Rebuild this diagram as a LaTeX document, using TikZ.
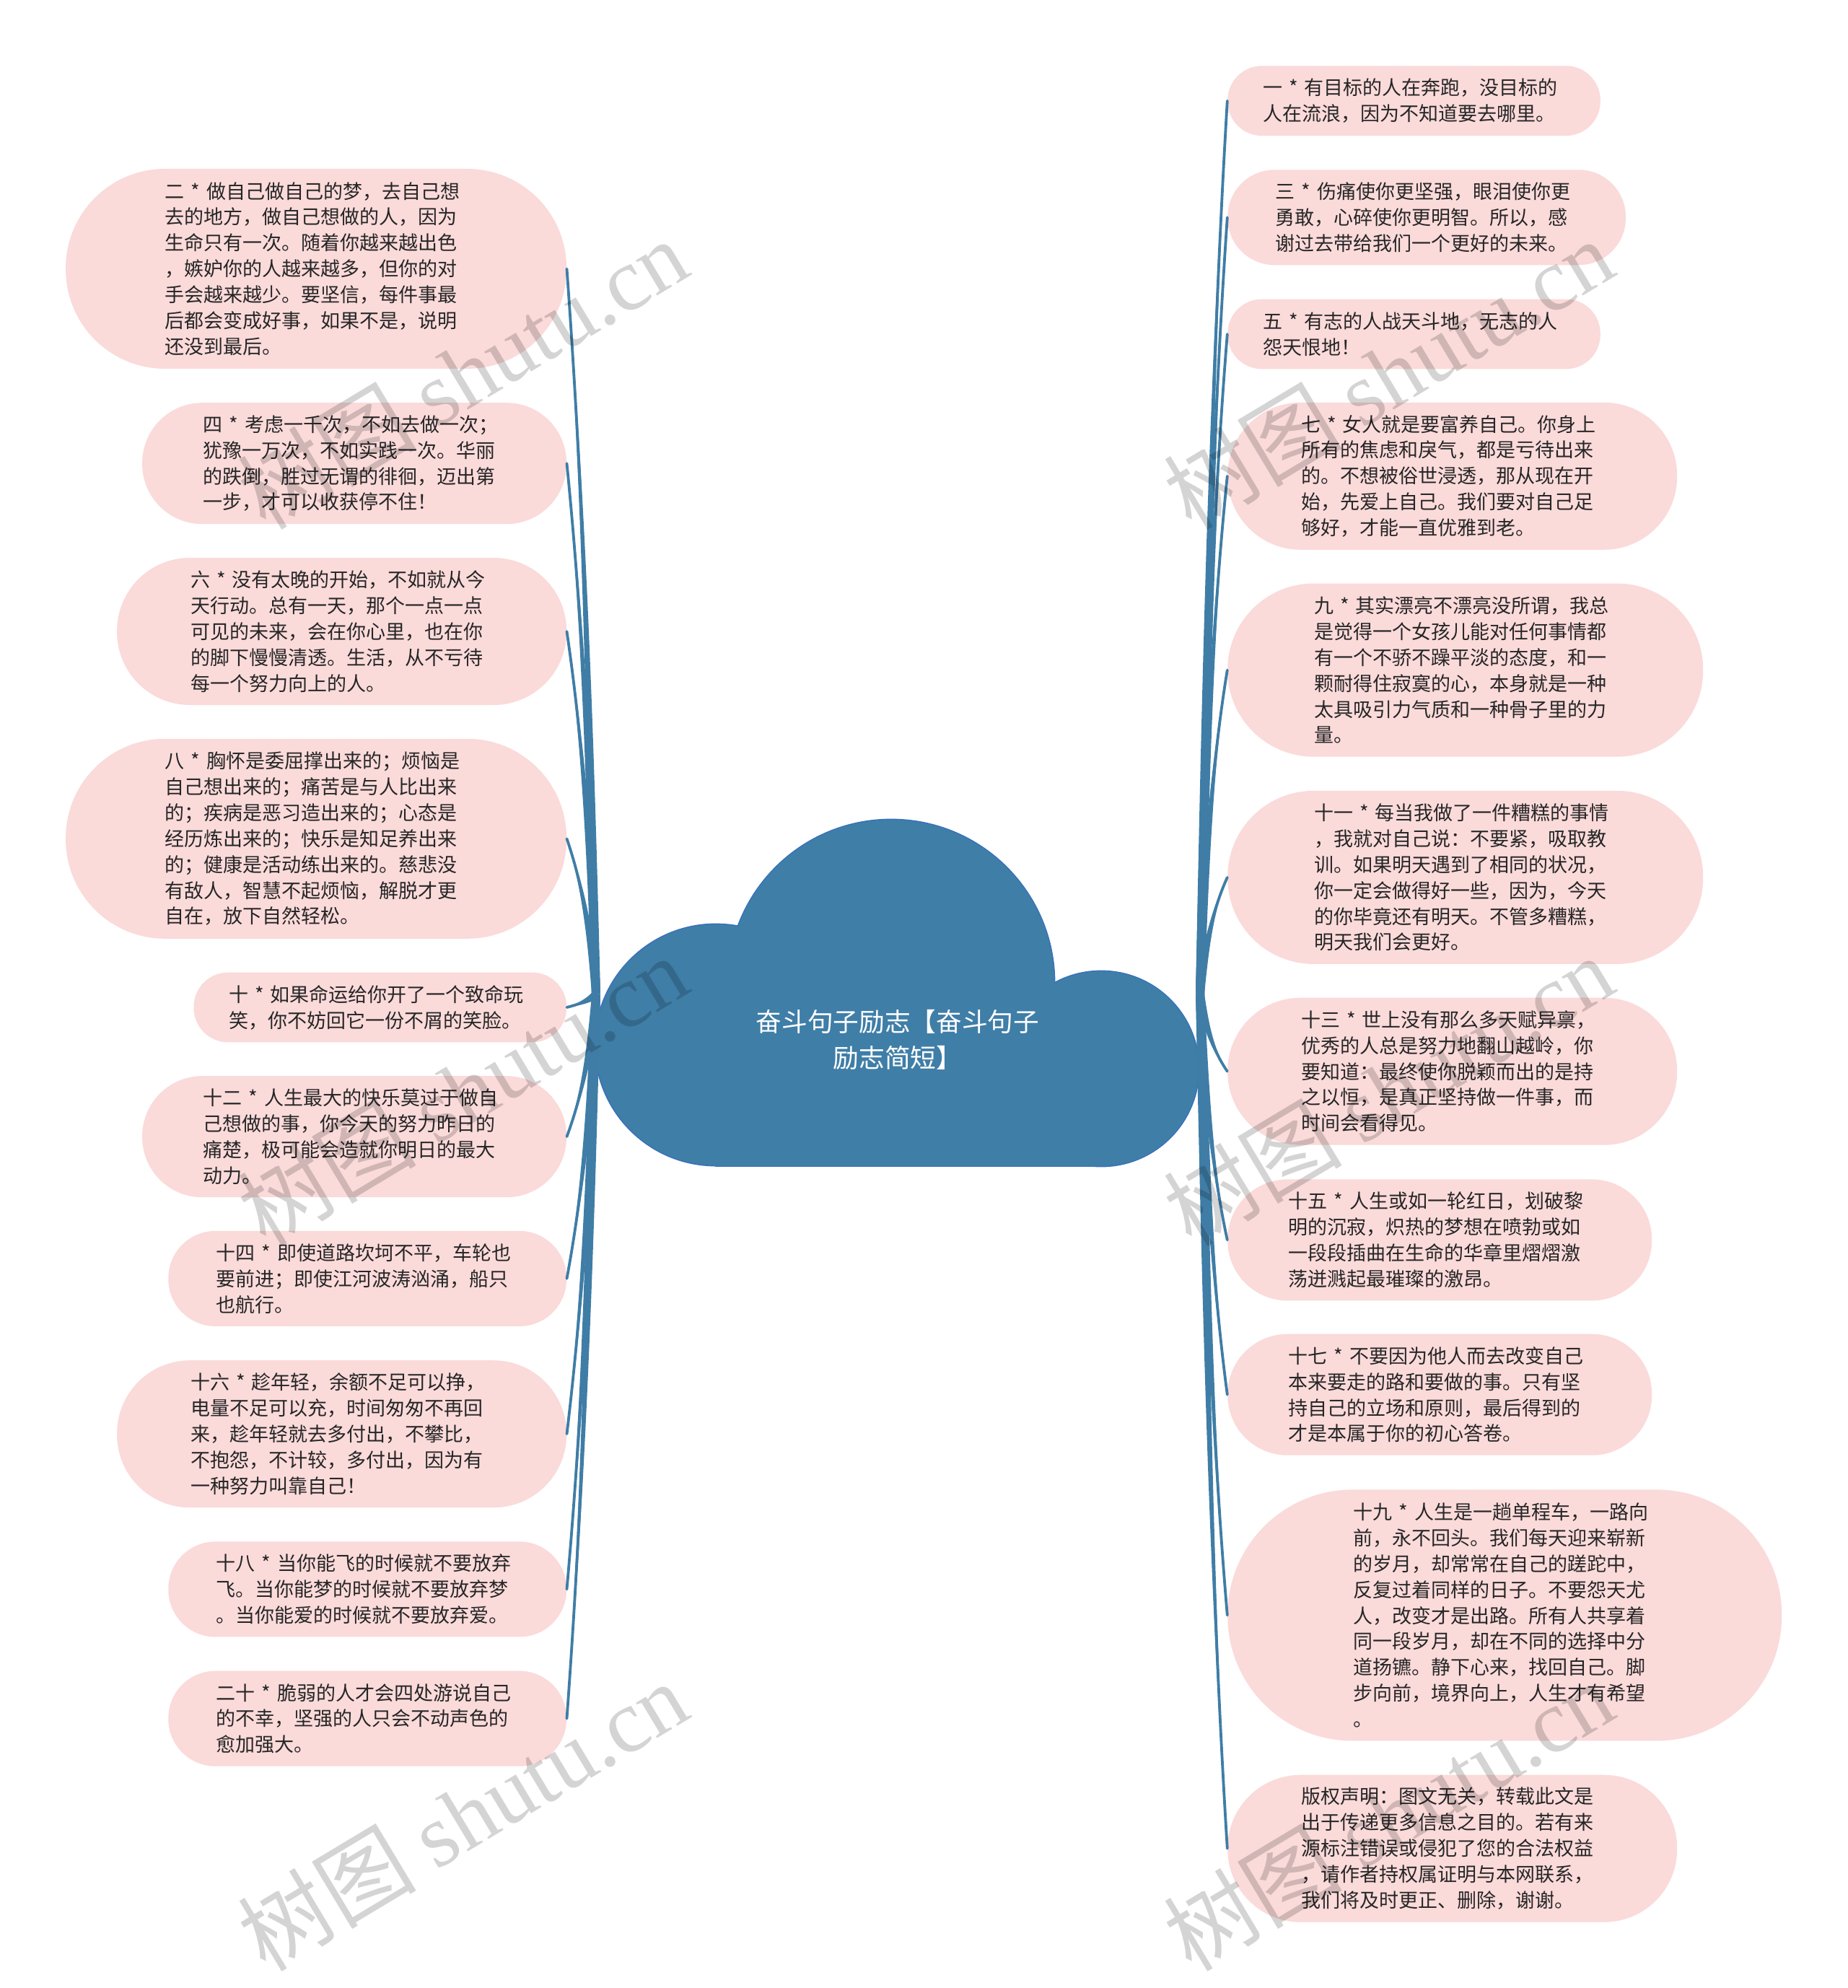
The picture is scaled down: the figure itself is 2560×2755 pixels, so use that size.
\documentclass[tikz,border=0pt]{standalone}
\usepackage{fontspec}
\setmainfont{Noto Sans CJK SC}
\newfontfamily\wmserif{Liberation Serif}
\usetikzlibrary{calc}
\definecolor{pinkc}{RGB}{251,218,218}
\definecolor{linkc}{RGB}{63,125,166}
\definecolor{cloudc}{RGB}{63,126,167}
\definecolor{cloudedge}{RGB}{55,112,190}
\definecolor{textc}{RGB}{38,38,38}
\tikzset{
  pill/.style={shape=rectangle, fill=pinkc, inner sep=0pt, text=textc, align=left,
    text width=209.5pt, font=\fontsize{13.5}{17.95}\selectfont},
  p2/.style={pill, minimum width=258.3pt, minimum height=48.4pt, rounded corners=23.8pt},
  p3/.style={pill, minimum width=275.9pt, minimum height=66pt, rounded corners=32.6pt},
  p4/.style={pill, minimum width=294pt, minimum height=84pt, rounded corners=41.6pt},
  p5/.style={pill, minimum width=311.5pt, minimum height=102pt, rounded corners=50.6pt},
  p6/.style={pill, minimum width=329.5pt, minimum height=120pt, rounded corners=59.6pt},
  p7/.style={pill, minimum width=347pt, minimum height=138.5pt, rounded corners=68.8pt},
  p9/.style={pill, minimum width=384pt, minimum height=174pt, rounded corners=86.6pt},
  cloudpart/.style={fill=cloudc},
  cloudline/.style={draw=cloudedge, line width=1.4pt},
  wm/.style={text=black, text opacity=0.17, rotate=31, inner sep=0pt,
    font=\fontsize{62}{62}\selectfont},
}
\newcommand\mmlink[3]{%
  \path let \p1=(#1), \p2=(#2),
    \n1={veclen(\x2-\x1,\y2-\y1)},
    \n2={(\y2-\y1)/\n1},
    \n3={(\x2-\x1)/\n1},
    \p3=({\x1+(#3)*4pt},{\y1+0.4*(\y2-\y1)}),
    \p4=({\x2-(#3)*11pt},{\y2-0.3*(\y2-\y1)})
  in
    coordinate (q1) at (\p3)
    coordinate (q2) at (\p4)
    coordinate (ra) at ({\x1-3.0*\n2},{\y1+3.0*\n3})
    coordinate (rb) at ({\x1+3.0*\n2},{\y1-3.0*\n3})
    coordinate (q1a) at ({\x3-2.2*\n2},{\y3+2.2*\n3})
    coordinate (q1b) at ({\x3+2.2*\n2},{\y3-2.2*\n3})
    coordinate (q2a) at ({\x4-1.2*\n2},{\y4+1.2*\n3})
    coordinate (q2b) at ({\x4+1.2*\n2},{\y4-1.2*\n3});
  \fill[linkc] (ra) .. controls (q1a) and (q2a) .. (#2) .. controls (q2b) and (q1b) .. (rb) -- cycle;
  \draw[linkc, line width=1.9pt, line cap=round] (#1) .. controls (q1) and (q2) .. (#2);
}
\begin{document}
\begin{tikzpicture}[x=0.5pt,y=-0.5pt]
\useasboundingbox (0,0) rectangle (2560,2755);
\fill[white] (0,0) rectangle (2560,2755);

% cloud
\draw[cloudline] (992,1448) circle[radius=167];
\draw[cloudline] (1235,1362) circle[radius=226];
\draw[cloudline] (1526,1481) circle[radius=135];
\draw[cloudline] (992,1370) rectangle (1526,1616);
\fill[cloudpart] (992,1448) circle[radius=167];
\fill[cloudpart] (1235,1362) circle[radius=226];
\fill[cloudpart] (1526,1481) circle[radius=135];
\fill[cloudpart] (992,1370) rectangle (1526,1616);
\node[text=white, align=center, font=\fontsize{17.85}{25}\selectfont] (root) at (1244,1441) {奋斗句子励志【奋斗句子\\励志简短】};
\coordinate (rootL) at (826,1377.5);
\coordinate (rootR) at (1663,1377.5);

% left nodes
\node[p7, anchor=east] (l2) at (785.5,372.5) {二 * 做自己做自己的梦，去自己想\\去的地方，做自己想做的人，因为\\生命只有一次。随着你越来越出色\\，嫉妒你的人越来越多，但你的对\\手会越来越少。要坚信，每件事最\\后都会变成好事，如果不是，说明\\还没到最后。};
\node[p4, anchor=east] (l4) at (785.5,642.2) {四 * 考虑一千次，不如去做一次；\\犹豫一万次，不如实践一次。华丽\\的跌倒，胜过无谓的徘徊，迈出第\\一步，才可以收获停不住！};
\node[p5, anchor=east] (l6) at (785.5,875) {六 * 没有太晚的开始，不如就从今\\天行动。总有一天，那个一点一点\\可见的未来，会在你心里，也在你\\的脚下慢慢清透。生活，从不亏待\\每一个努力向上的人。};
\node[p7, anchor=east] (l8) at (785.5,1162.3) {八 * 胸怀是委屈撑出来的；烦恼是\\自己想出来的；痛苦是与人比出来\\的；疾病是恶习造出来的；心态是\\经历炼出来的；快乐是知足养出来\\的；健康是活动练出来的。慈悲没\\有敌人，智慧不起烦恼，解脱才更\\自在，放下自然轻松。};
\node[p2, anchor=east] (l10) at (785.5,1396) {十 * 如果命运给你开了一个致命玩\\笑，你不妨回它一份不屑的笑脸。};
\node[p4, anchor=east] (l12) at (785.5,1575.2) {十二 * 人生最大的快乐莫过于做自\\己想做的事，你今天的努力昨日的\\痛楚，极可能会造就你明日的最大\\动力。};
\node[p3, anchor=east] (l14) at (785.5,1771.9) {十四 * 即使道路坎坷不平，车轮也\\要前进；即使江河波涛汹涌，船只\\也航行。};
\node[p5, anchor=east] (l16) at (785.5,1987.2) {十六 * 趁年轻，余额不足可以挣，\\电量不足可以充，时间匆匆不再回\\来，趁年轻就去多付出，不攀比，\\不抱怨，不计较，多付出，因为有\\一种努力叫靠自己！};
\node[p3, anchor=east] (l18) at (785.5,2202.4) {十八 * 当你能飞的时候就不要放弃\\飞。当你能梦的时候就不要放弃梦\\。当你能爱的时候就不要放弃爱。};
\node[p3, anchor=east] (l20) at (785.5,2381.6) {二十 * 脆弱的人才会四处游说自己\\的不幸，坚强的人只会不动声色的\\愈加强大。};

% right nodes
\node[p2, anchor=west] (r1) at (1700.8,139.7) {一 * 有目标的人在奔跑，没目标的\\人在流浪，因为不知道要去哪里。};
\node[p3, anchor=west] (r3) at (1700.8,301.3) {三 * 伤痛使你更坚强，眼泪使你更\\勇敢，心碎使你更明智。所以，感\\谢过去带给我们一个更好的未来。};
\node[p2, anchor=west] (r5) at (1700.8,463) {五 * 有志的人战天斗地，无志的人\\怨天恨地！};
\node[p5, anchor=west] (r7) at (1700.8,659.8) {七 * 女人就是要富养自己。你身上\\所有的焦虑和戾气，都是亏待出来\\的。不想被俗世浸透，那从现在开\\始，先爱上自己。我们要对自己足\\够好，才能一直优雅到老。};
\node[p6, anchor=west] (r9) at (1700.8,928.6) {九 * 其实漂亮不漂亮没所谓，我总\\是觉得一个女孩儿能对任何事情都\\有一个不骄不躁平淡的态度，和一\\颗耐得住寂寞的心，本身就是一种\\太具吸引力气质和一种骨子里的力\\量。};
\node[p6, anchor=west] (r11) at (1700.8,1215.9) {十一 * 每当我做了一件糟糕的事情\\，我就对自己说：不要紧，吸取教\\训。如果明天遇到了相同的状况，\\你一定会做得好一些，因为，今天\\的你毕竟还有明天。不管多糟糕，\\明天我们会更好。};
\node[p5, anchor=west] (r13) at (1700.8,1484.7) {十三 * 世上没有那么多天赋异禀，\\优秀的人总是努力地翻山越岭，你\\要知道：最终使你脱颖而出的是持\\之以恒，是真正坚持做一件事，而\\时间会看得见。};
\node[p4, anchor=west] (r15) at (1700.8,1718.4) {十五 * 人生或如一轮红日，划破黎\\明的沉寂，炽热的梦想在喷勃或如\\一段段插曲在生命的华章里熠熠激\\荡迸溅起最璀璨的激昂。};
\node[p4, anchor=west] (r17) at (1700.8,1932.7) {十七 * 不要因为他人而去改变自己\\本来要走的路和要做的事。只有坚\\持自己的立场和原则，最后得到的\\才是本属于你的初心答卷。};
\node[p9, anchor=west] (r19) at (1700.8,2238.4) {十九 * 人生是一趟单程车，一路向\\前，永不回头。我们每天迎来崭新\\的岁月，却常常在自己的蹉跎中，\\反复过着同样的日子。不要怨天尤\\人，改变才是出路。所有人共享着\\同一段岁月，却在不同的选择中分\\道扬镳。静下心来，找回自己。脚\\步向前，境界向上，人生才有希望\\。};
\node[p5, anchor=west] (rc) at (1700.8,2561.7) {版权声明：图文无关，转载此文是\\出于传递更多信息之目的。若有来\\源标注错误或侵犯了您的合法权益\\，请作者持权属证明与本网联系，\\我们将及时更正、删除，谢谢。};

% connectors
\mmlink{rootL}{l2.east}{-1}
\mmlink{rootL}{l4.east}{-1}
\mmlink{rootL}{l6.east}{-1}
\mmlink{rootL}{l8.east}{-1}
\mmlink{rootL}{l10.east}{-1}
\mmlink{rootL}{l12.east}{-1}
\mmlink{rootL}{l14.east}{-1}
\mmlink{rootL}{l16.east}{-1}
\mmlink{rootL}{l18.east}{-1}
\mmlink{rootL}{l20.east}{-1}
\mmlink{rootR}{r1.west}{1}
\mmlink{rootR}{r3.west}{1}
\mmlink{rootR}{r5.west}{1}
\mmlink{rootR}{r7.west}{1}
\mmlink{rootR}{r9.west}{1}
\mmlink{rootR}{r11.west}{1}
\mmlink{rootR}{r13.west}{1}
\mmlink{rootR}{r15.west}{1}
\mmlink{rootR}{r17.west}{1}
\mmlink{rootR}{r19.west}{1}
\mmlink{rootR}{rc.west}{1}

% watermarks
\node[wm] (wm1) at (641,518) {树图 {\wmserif shutu.cn}};
\node[wm] (wm2) at (1924,518) {树图 {\wmserif shutu.cn}};
\node[wm] (wm3) at (641,1511) {树图 {\wmserif shutu.cn}};
\node[wm] (wm4) at (1924,1511) {树图 {\wmserif shutu.cn}};
\node[wm] (wm5) at (641,2516) {树图 {\wmserif shutu.cn}};
\node[wm] (wm6) at (1924,2516) {树图 {\wmserif shutu.cn}};
\end{tikzpicture}
\end{document}
